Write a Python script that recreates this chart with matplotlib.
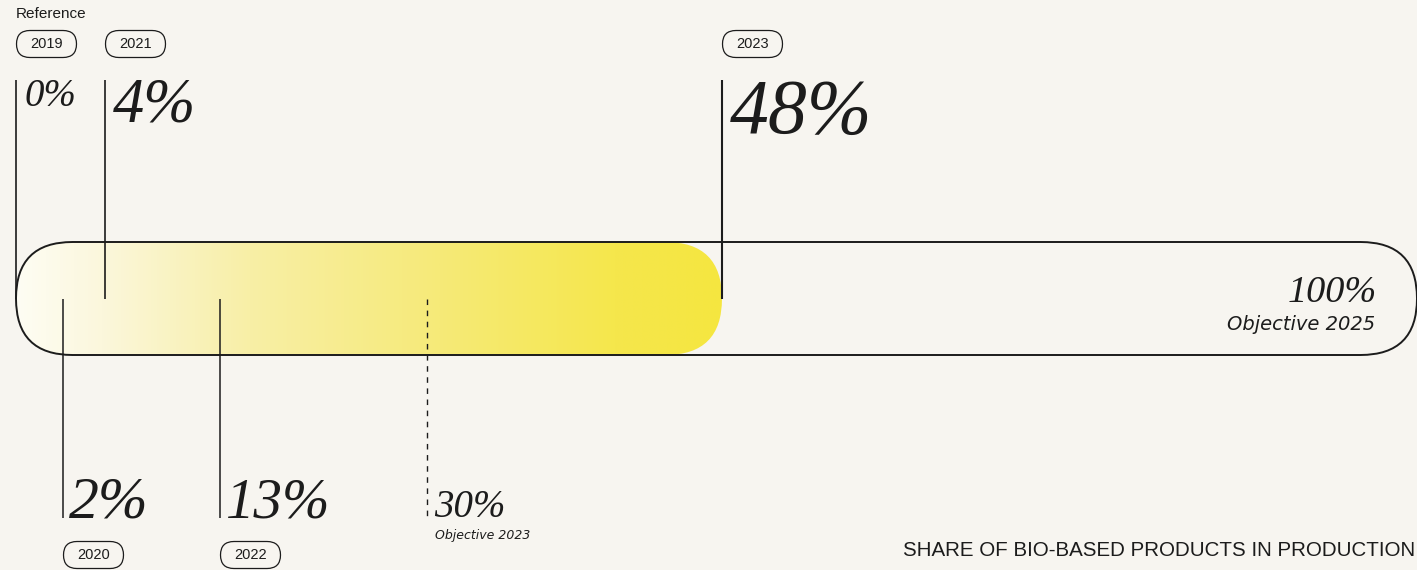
import numpy as np
import matplotlib.pyplot as plt
from matplotlib.patches import FancyBboxPatch
from matplotlib.colors import LinearSegmentedColormap

# Data
years = ['2019', '2020', '2021', '2022', '2023']
shares = [0, 2, 4, 13, 48]          # % bio-based products per year
objective_2023 = 30
objective_2025 = 100
title = 'SHARE OF BIO-BASED PRODUCTS IN PRODUCTION'

# The designer's track is not linear: value -> pixel knots
track_vals = [0, 2, 4, 13, 30, 48, 100]
track_px = [16, 63, 105, 220, 427, 722, 1417]

def to_px(v):
    return float(np.interp(v, track_vals, track_px))

# Styles
bg = '#f7f5f0'
ink = '#1c1c1c'
serif = 'Liberation Serif'
sans = 'Liberation Sans'
wide_sans = 'DejaVu Sans'
label_sizes = [28, 43, 45, 41, 56]   # point size of each year's % label

W, H = 1417, 570
fig = plt.figure(figsize=(W / 100, H / 100), dpi=100, facecolor=bg)
ax = fig.add_axes([0, 0, 1, 1])
ax.set_facecolor(bg)

bar_top, bar_h = 242, 113
r = bar_h / 2
mid = bar_top + r

# gradient fill up to the latest value
x0, x1 = to_px(0), to_px(shares[-1])
fill = FancyBboxPatch((x0, bar_top), x1 - x0, bar_h,
                      boxstyle=f'round,pad=0,rounding_size={r}',
                      fc='none', ec='none')
ax.add_patch(fill)
cmap = LinearSegmentedColormap.from_list('bio', [
    (0.0, '#fefdf4'), (0.12, '#fbf7dc'), (0.33, '#f8efa6'),
    (0.6, '#f6ea78'), (0.85, '#f5e74c'), (1.0, '#f5e640')])
grad = np.linspace(0, 1, 512).reshape(1, -1)
im = ax.imshow(grad, cmap=cmap, extent=(x0, x1, bar_top + bar_h, bar_top),
               aspect='auto', zorder=1, interpolation='bilinear')
im.set_clip_path(fill)

# outline of the full track (to 100%)
outline = FancyBboxPatch((to_px(0), bar_top), to_px(objective_2025) - to_px(0), bar_h,
                         boxstyle=f'round,pad=0,rounding_size={r}',
                         fc='none', ec=ink, lw=1.4, zorder=3)
ax.add_patch(outline)

# year markers: alternate above / below the track
for i, (yr, v) in enumerate(zip(years, shares)):
    x = to_px(v)
    up = i % 2 == 0
    if up:
        ax.plot([x, x], [80, mid], color=ink, lw=1.5 if v == shares[-1] else 1.2,
                zorder=4, solid_capstyle='butt')
        ax.text(x + 8, 78, f'{v}%', fontsize=label_sizes[i], family=serif,
                style='italic', color=ink, ha='left', va='top')
        pill_y = 44
    else:
        ax.plot([x, x], [mid, 518], color=ink, lw=1.1, zorder=4, solid_capstyle='butt')
        ax.text(x + 6, 518, f'{v}%', fontsize=label_sizes[i], family=serif,
                style='italic', color=ink, ha='left', va='baseline')
        pill_y = 555
    pill = FancyBboxPatch((x + 0.5, pill_y - 13.5), 60, 27,
                          boxstyle='round,pad=0,rounding_size=13.5',
                          fc='none', ec=ink, lw=0.9)
    ax.add_patch(pill)
    ax.text(x + 30.5, pill_y, yr, fontsize=10.5, family=sans, color=ink,
            ha='center', va='center')

ax.text(16, 14, 'Reference', fontsize=11, family=sans, color=ink, ha='left', va='center')

# objective 2023 (dashed)
xo = to_px(objective_2023)
ax.plot([xo, xo], [mid, 518], color=ink, lw=1.0, ls=(0, (4, 4)), zorder=4)
ax.text(xo + 7, 517, f'{objective_2023}%', fontsize=28, family=serif,
        style='italic', color=ink, ha='left', va='baseline')
ax.text(xo + 8, 536, 'Objective 2023', fontsize=9, family=wide_sans,
        style='italic', color=ink, ha='left', va='center')

# objective 2025
ax.text(1377, 302, f'{objective_2025}%', fontsize=27.5, family=serif,
        style='italic', color=ink, ha='right', va='baseline')
ax.text(1375, 324, 'Objective 2025', fontsize=14, family=wide_sans,
        style='italic', color=ink, ha='right', va='center')

ax.text(1415, 550, title, fontsize=14.8, family=sans, color=ink,
        ha='right', va='center')

ax.set_xlim(0, W)
ax.set_ylim(H, 0)
ax.axis('off')
fig.savefig('out.png', dpi=100, facecolor=bg)
